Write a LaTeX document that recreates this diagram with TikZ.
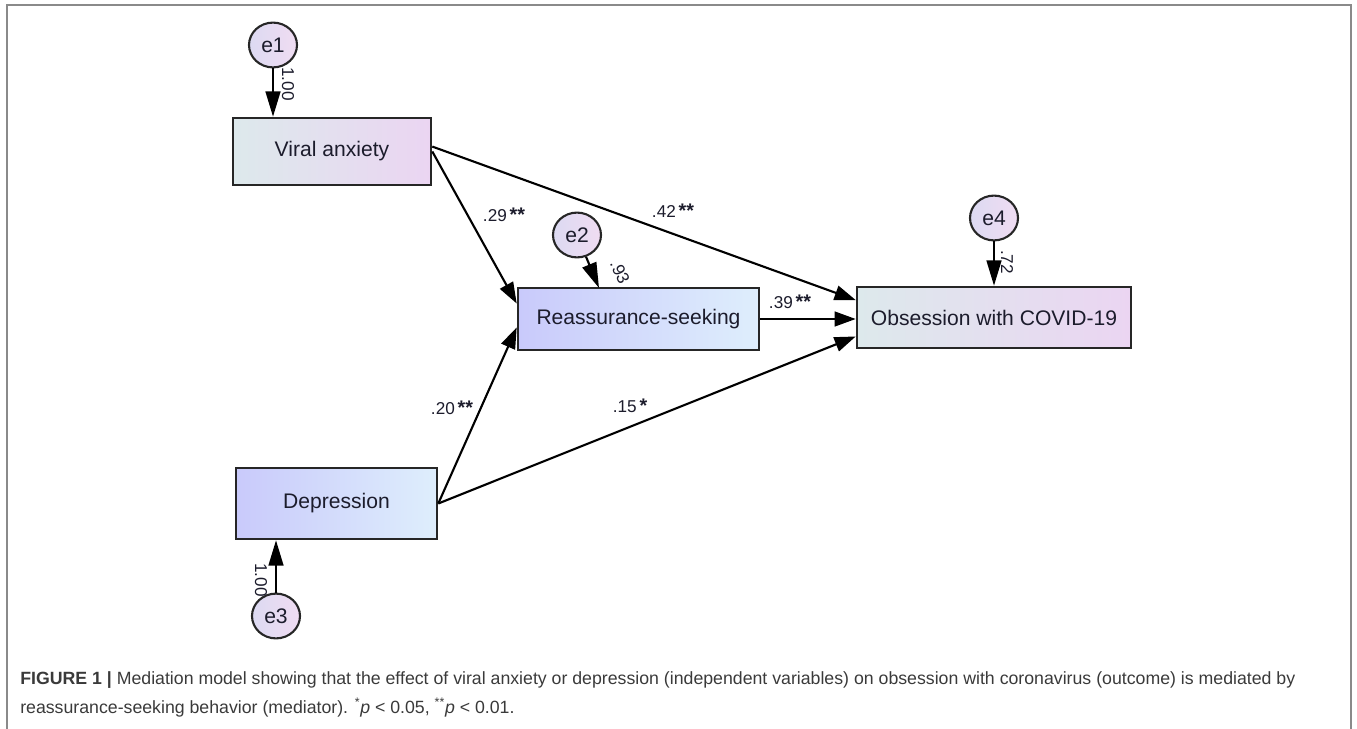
\documentclass[tikz,border=0pt]{standalone}
\usepackage{fontspec}
\setmainfont{Liberation Sans}
\usetikzlibrary{arrows.meta,shapes.geometric}

\definecolor{txt}{HTML}{1C1C2C}
\definecolor{capt}{HTML}{3A3A3A}
\definecolor{frame}{HTML}{8A8A8A}
\definecolor{graycyan}{HTML}{DDE9EC}
\definecolor{lavender}{HTML}{EBD5F2}
\definecolor{periwinkle}{HTML}{C9CAFB}
\definecolor{skyblue}{HTML}{DEEEFC}
\definecolor{errleft}{HTML}{DCDAF2}
\definecolor{errright}{HTML}{F0DCF2}

\newcommand{\sig}[1]{\,{\fontsize{14}{14}\selectfont\textbf{#1}}}

\begin{document}
\begin{tikzpicture}[x=0.025cm, y=-0.025cm,
  var/.style={draw=black!85, line width=1.8pt, text=txt,
    font=\fontsize{15}{17}\selectfont},
  vara/.style={var, left color=graycyan, right color=lavender},
  varb/.style={var, left color=periwinkle, right color=skyblue},
  err/.style={draw=black!85, line width=1.5pt, ellipse, inner sep=0pt,
    minimum width=1.2cm, minimum height=1.12cm, text=txt,
    left color=errleft, right color=errright,
    font=\fontsize{15}{17}\selectfont},
  coef/.style={text=txt, font=\fontsize{12.2}{14}\selectfont, inner sep=1pt},
  path/.style={line width=1.5pt, -{Triangle[length=15pt, width=10.5pt]}},
  res/.style={line width=1.5pt, -{Triangle[length=18pt, width=10.5pt]}}]
\useasboundingbox (0,0) rectangle (1357,729);
\draw[frame, line width=1.4pt] (7,729) -- (7,5) -- (1351,5) -- (1351,729);

% observed variables
\node[vara, minimum width=4.95cm, minimum height=1.675cm] (va) at (332,151.5) {Viral anxiety};
\node[varb, minimum width=6.025cm, minimum height=1.55cm] (rs) at (638.5,319) {Reassurance-seeking};
\node[vara, minimum width=6.85cm, minimum height=1.525cm] (ob) at (994,317.5) {Obsession with COVID-19};
\node[varb, minimum width=5.025cm, minimum height=1.775cm] (dep) at (336.5,503.5) {Depression};

% error terms
\node[err] (e1) at (273,45) {e1};
\node[err] (e2) at (577,235) {e2};
\node[err] (e3) at (276,616) {e3};
\node[err] (e4) at (994,218) {e4};

\coordinate (r2) at (599,288);

% residual paths
\draw[res] (e1) -- (e1 |- va.north);
\draw[res] (e2) -- (r2);
\draw[res] (e3) -- (e3 |- dep.south);
\draw[res] (e4) -- (e4 |- ob.north);

\node[coef, rotate=-90] at (288,84) {1.00};
\node[coef, rotate=-65] at (620,272) {.93};
\node[coef, rotate=-90] at (261,580) {1.00};
\node[coef, rotate=-90] at (1007,262) {.72};

% structural paths
\draw[path] ([yshift=3.5pt]va.east) -- ([yshift=12.4pt]ob.west);
\draw[path] (va.east) -- ([yshift=11pt]rs.west);
\draw[path] (rs.east) -- (rs.east -| ob.west);
\draw[path] (dep.east) -- ([yshift=-6pt]rs.west);
\draw[path] (dep.east) -- ([yshift=-13.5pt]ob.west);

\node[coef] at (504,215) {.29\sig{**}};
\node[coef] at (673,211) {.42\sig{**}};
\node[coef] at (790,302) {.39\sig{**}};
\node[coef] at (452,408) {.20\sig{**}};
\node[coef] at (630,406) {.15\sig{*}};

% caption
\node[anchor=north west, align=left, text=capt, inner sep=0pt,
  font=\fontsize{12.6}{20.6}\selectfont] (cap) at (20,671)
  {\textbf{FIGURE 1 |} Mediation model showing that the effect of viral anxiety or depression (independent variables) on obsession with coronavirus (outcome) is mediated by\\
   reassurance-seeking behavior (mediator). \textsuperscript{*}\textit{p} < 0.05, \textsuperscript{**}\textit{p} < 0.01.};
\end{tikzpicture}
\end{document}
